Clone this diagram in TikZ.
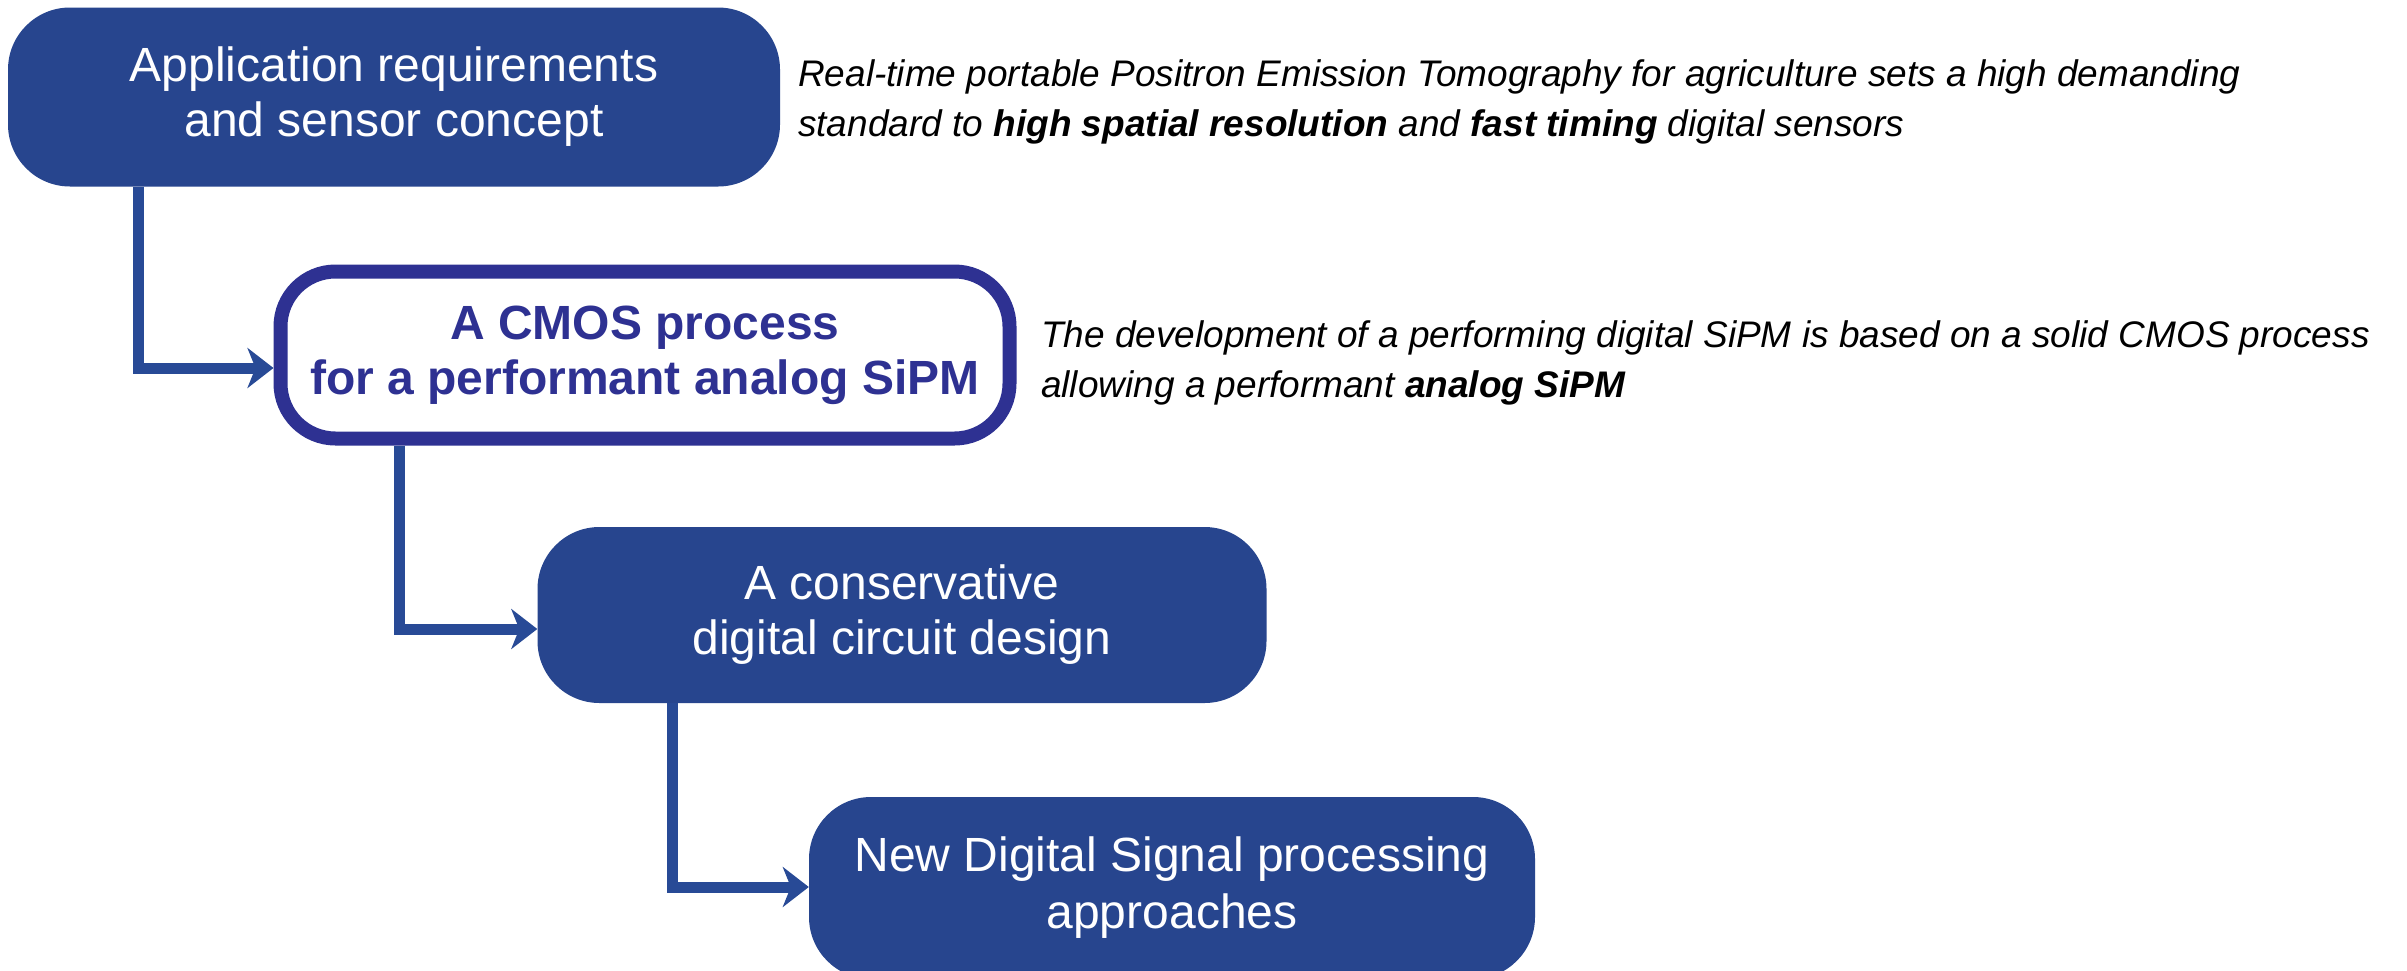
\documentclass[tikz,border=0pt]{standalone}
\usepackage{fontspec}
\setmainfont{Liberation Sans}
\usetikzlibrary{arrows.meta}
\definecolor{boxblue}{RGB}{39,69,142}
\definecolor{edgeblue}{RGB}{46,49,146}
\definecolor{linkblue}{RGB}{40,74,150}
\begin{document}
\begin{tikzpicture}[x=1pt,y=-1pt,
  stage/.style={rounded corners=62pt, minimum width=772pt, minimum height=179pt,
    align=center, inner sep=0pt, font=\fontsize{48}{55}\selectfont,
    execute at begin node={\rule{0pt}{42pt}}},
  filled/.style={stage, fill=boxblue, text=white},
  outlined/.style={stage, rounded corners=55pt, draw=edgeblue, line width=14pt, fill=white,
    text=edgeblue, minimum width=729pt, minimum height=167pt,
    font=\fontsize{48}{55}\selectfont\bfseries},
  link/.style={draw=linkblue, line width=11pt, -{Stealth[length=26pt,width=40pt,inset=8pt]}},
  note/.style={anchor=west, align=left, inner sep=0pt, font=\fontsize{37}{50}\selectfont\itshape}]

% page area
\useasboundingbox (0,0) rectangle (2407,970);
\fill[white] (0,0) rectangle (2407,970);

% process stages
\node[filled, minimum width=772pt, minimum height=179pt] (b1) at (394,97)
  {Application requirements\\and sensor concept};
\node[outlined] (b2) at (645,355)
  {A CMOS process\\for a performant analog SiPM};
\node[filled, minimum width=729pt, minimum height=176pt] (b3) at (902,615)
  {A conservative\\digital circuit design};
\node[filled, minimum width=726pt, minimum height=182pt,
      font=\fontsize{48}{57}\selectfont] (b4) at (1172,888)
  {New Digital Signal processing\\approaches};

% bend points of the connectors
\coordinate (k1) at (138,368);
\coordinate (k2) at (399,629);
\coordinate (k3) at (672,887);

\draw[link] (b1.south -| k1) |- (b2.west |- k1);
\draw[link] (b2.south -| k2) |- (b3.west |- k2);
\draw[link] (b3.south -| k3) |- (b4.west |- k3);

% explanatory notes
\node[note] (n1) at (798,102)
  {Real-time portable Positron Emission Tomography for agriculture sets a high demanding\\
   standard to \textbf{high spatial resolution} and \textbf{fast timing} digital sensors};
\node[note] (n2) at (1041,363)
  {The development of a performing digital SiPM is based on a solid CMOS process\\
   allowing a performant \textbf{analog SiPM}};
\end{tikzpicture}
\end{document}
